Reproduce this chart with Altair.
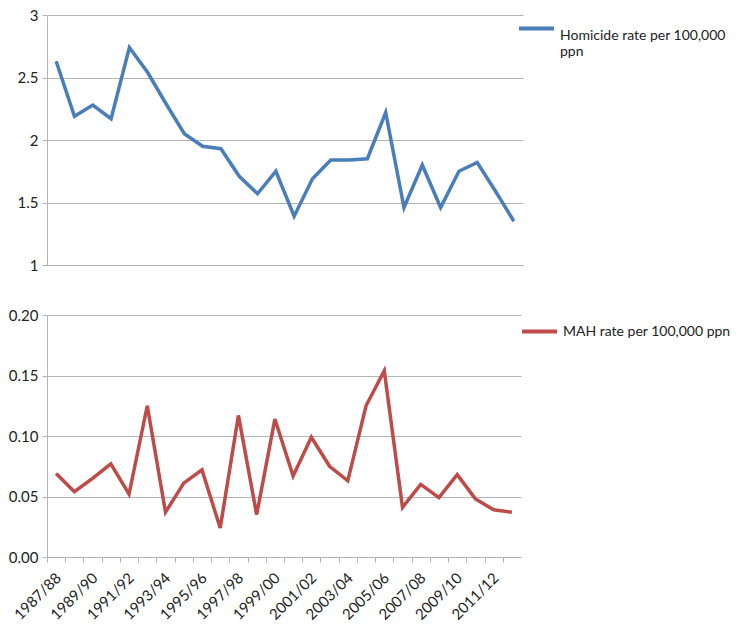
import altair as alt
import pandas as pd

years = ["1987/88", "1988/89", "1989/90", "1990/91", "1991/92", "1992/93", "1993/94",
         "1994/95", "1995/96", "1996/97", "1997/98", "1998/99", "1999/00", "2000/01",
         "2001/02", "2002/03", "2003/04", "2004/05", "2005/06", "2006/07", "2007/08",
         "2008/09", "2009/10", "2010/11", "2011/12", "2012/13"]

homicide = [2.63, 2.19, 2.28, 2.17, 2.74, 2.54, 2.29, 2.05, 1.95, 1.93, 1.71, 1.57, 1.75,
            1.39, 1.69, 1.84, 1.84, 1.85, 2.22, 1.46, 1.80, 1.46, 1.75, 1.82, 1.59, 1.35]

mah = [0.069, 0.054, 0.065, 0.077, 0.052, 0.125, 0.037, 0.061, 0.072, 0.024, 0.117, 0.035,
       0.114, 0.067, 0.099, 0.075, 0.063, 0.125, 0.154, 0.041, 0.060, 0.049, 0.068, 0.048,
       0.039, 0.037]

homicide_label = "Homicide rate per 100,000 ppn"
mah_label = "MAH rate per 100,000 ppn"

df1 = pd.DataFrame({"year": years, "value": homicide, "series": homicide_label})
df2 = pd.DataFrame({"year": years, "value": mah, "series": mah_label})

FONT = "Lato"
GRID = "#B4B4B4"
BLUE = "#4A7EBB"
RED = "#BE4B48"

TOP_W, TOP_H = 476, 250
BOT_W, BOT_H = 474, 242
half_step = BOT_W / len(years) / 2

top = alt.Chart(df1).mark_line(strokeWidth=3.5).encode(
    x=alt.X("year:O", sort=years, scale=alt.Scale(padding=0.5),
            axis=alt.Axis(title=None, labels=False, ticks=False, domain=True, grid=False)),
    y=alt.Y("value:Q", scale=alt.Scale(domain=[1, 3], nice=False, zero=False),
            axis=alt.Axis(title=None, values=[1, 1.5, 2, 2.5, 3], format="~g")),
    color=alt.Color("series:N", scale=alt.Scale(domain=[homicide_label], range=[BLUE]),
                    legend=alt.Legend(title=None, orient="none", legendX=470, legendY=-6,
                                      symbolType="stroke", symbolSize=1225,
                                      symbolStrokeWidth=4, labelFontSize=14,
                                      labelFont=FONT, labelColor="#222222",
                                      labelBaseline="top",
                                      labelExpr="['Homicide rate per 100,000', 'ppn']",
                                      labelLimit=400)),
).properties(width=TOP_W, height=TOP_H)

bottom = alt.Chart(df2).mark_line(strokeWidth=3.5).encode(
    x=alt.X("year:O", sort=years, scale=alt.Scale(padding=0.5),
            axis=alt.Axis(title=None, labelAngle=-45, labelAlign="right",
                          labelBaseline="top", labelPadding=8,
                          tickOffset=-half_step, labelOffset=half_step - 3,
                          labelOverlap=False, grid=False, ticks=True,
                          labelExpr="toNumber(slice(datum.value, 0, 4)) % 2 == 1 ? datum.value : ''")),
    y=alt.Y("value:Q", scale=alt.Scale(domain=[0, 0.2], nice=False),
            axis=alt.Axis(title=None, values=[0, 0.05, 0.1, 0.15, 0.2], format=".2f")),
    color=alt.Color("series:N", scale=alt.Scale(domain=[mah_label], range=[RED]),
                    legend=alt.Legend(title=None, orient="none", legendX=473, legendY=-3,
                                      symbolType="stroke", symbolSize=1225,
                                      symbolStrokeWidth=4, labelFontSize=14,
                                      labelFont=FONT, labelColor="#222222",
                                      labelLimit=400)),
).properties(width=BOT_W, height=BOT_H)

chart = alt.vconcat(top, bottom, spacing=35).resolve_scale(
    color="independent", x="independent"
).configure_axis(
    labelFont=FONT, labelFontSize=15, labelColor="#222222",
    domainColor=GRID, tickColor=GRID, gridColor=GRID, gridWidth=1,
    tickSize=5, labelPadding=4
).configure_axisY(
    grid=True, domain=True
).configure_view(strokeWidth=0).properties(
    padding={"left": 0, "top": 0, "right": 0, "bottom": 0}
)

chart.save("out.html", embed_options={"renderer": "svg", "actions": False})
